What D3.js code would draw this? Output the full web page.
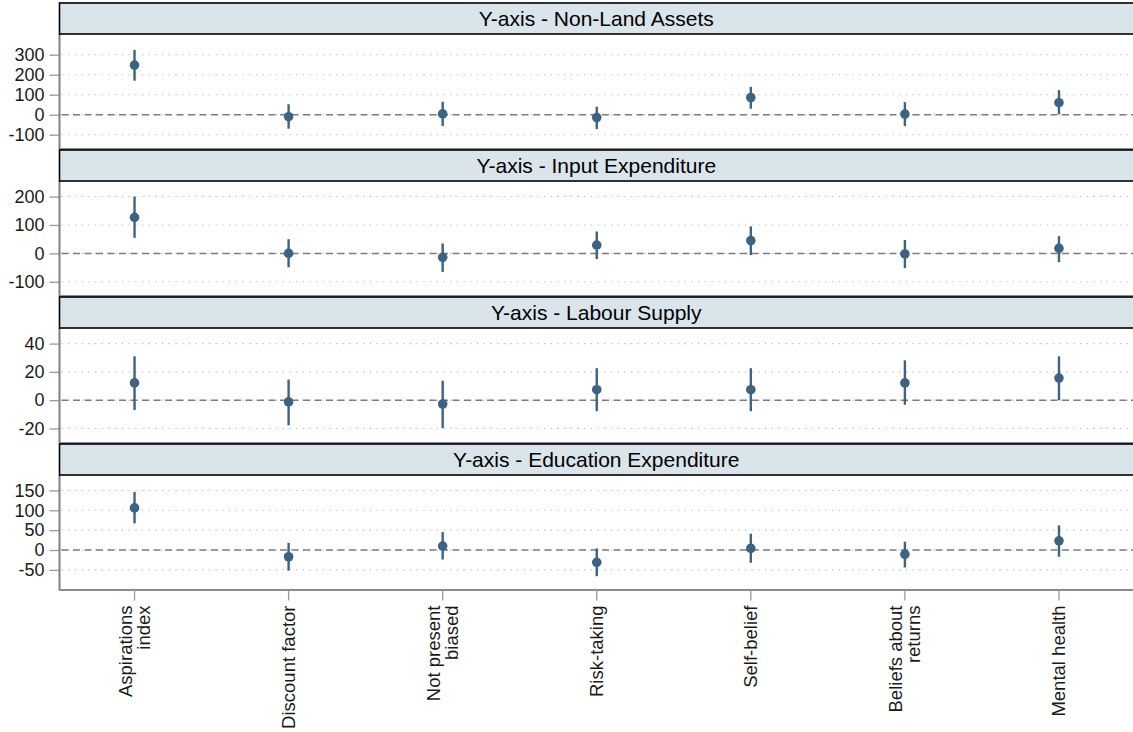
<!DOCTYPE html>
<html><head><meta charset="utf-8">
<script src="https://cdn.jsdelivr.net/npm/d3@7"></script>
<style>
html,body{margin:0;padding:0;background:#fff;}
svg{display:block;font-family:"Liberation Sans",Arial,sans-serif;}
</style></head>
<body>
<svg id="chart" width="1133" height="732"></svg>
<script>
const categories = ["Aspirations\nindex","Discount factor","Not present\nbiased","Risk-taking","Self-belief","Beliefs about\nreturns","Mental health"];
const panelTitles = ["Y-axis - Non-Land Assets","Y-axis - Input Expenditure","Y-axis - Labour Supply","Y-axis - Education Expenditure"];

// estimates, lower and upper bounds per panel (order of categories)
const estNonLand   = [248, -10, 4, -14, 86, 3, 60];
const loNonLand    = [170, -70, -57, -72, 30, -57, 2];
const hiNonLand    = [324, 52, 65, 40, 139, 63, 123];

const estInput     = [127, 0, -14, 29, 45, -2, 18];
const loInput      = [55, -49, -65, -20, -6, -52, -31];
const hiInput      = [200, 50, 35, 77, 95, 47, 61];

const estLabour    = [12.2, -1.2, -2.7, 7.4, 7.4, 12.2, 15.6];
const loLabour     = [-7, -17.7, -19.7, -7.8, -7.8, -3.2, 0];
const hiLabour     = [31, 14.6, 13.8, 22.6, 22.6, 28.2, 31];

const estEdu       = [106, -17, 10, -31, 4, -11, 23];
const loEdu        = [67, -52, -24, -66, -32, -44, -17];
const hiEdu        = [146, 18, 45, 4, 41, 21, 62];

const yTicksNonLand = [-100, 0, 100, 200, 300];
const yTicksInput   = [-100, 0, 100, 200];
const yTicksLabour  = [-20, 0, 20, 40];
const yTicksEdu     = [-50, 0, 50, 100, 150];

const yDomains = [[-169, 398.5], [-148.2, 251.3], [-29.9, 50.3], [-99.5, 186.4]];

const panels = [
  {title: panelTitles[0], est: estNonLand, lo: loNonLand, hi: hiNonLand, ticks: yTicksNonLand, domain: yDomains[0]},
  {title: panelTitles[1], est: estInput, lo: loInput, hi: hiInput, ticks: yTicksInput, domain: yDomains[1]},
  {title: panelTitles[2], est: estLabour, lo: loLabour, hi: hiLabour, ticks: yTicksLabour, domain: yDomains[2]},
  {title: panelTitles[3], est: estEdu, lo: loEdu, hi: hiEdu, ticks: yTicksEdu, domain: yDomains[3]}
];

const svg = d3.select("#chart");
const left = 59.5, right = 1136;
const cell = 147, top0 = 3, stripH = 31, panelOff = 32, panelH = 113.5;
const pointColor = "#3c6382";

const x = d3.scalePoint().domain(categories).range([left, right - 2]).padding(0.487);

panels.forEach((p, i) => {
  const sTop = top0 + i * cell;
  const pTop = sTop + panelOff, pBot = pTop + panelH;
  const y = d3.scaleLinear().domain(p.domain).range([pBot, pTop]);
  const g = svg.append("g");

  // grid
  g.selectAll("line.grid").data(p.ticks).join("line")
    .attr("x1", left + 2).attr("x2", right)
    .attr("y1", d => y(d)).attr("y2", d => y(d))
    .attr("stroke", "#bdbdbd").attr("stroke-width", 1.1)
    .attr("stroke-dasharray", "1.3,5.4");
  // zero line
  g.append("line").attr("x1", left + 2).attr("x2", right)
    .attr("y1", y(0)).attr("y2", y(0))
    .attr("stroke", "#7c7c7c").attr("stroke-width", 1.5)
    .attr("stroke-dasharray", "7,4.5");

  // y axis
  const ax = d3.axisLeft(y).tickValues(p.ticks).tickFormat(d => String(d))
    .tickSize(10).tickPadding(5).tickSizeOuter(0);
  const axg = g.append("g").attr("transform", `translate(${left},0)`).call(ax);
  axg.select(".domain").remove();
  axg.selectAll(".tick line").attr("stroke", "#9a9a9a").attr("stroke-width", 1.3);
  axg.selectAll(".tick text").attr("font-size", 18).attr("fill", "#1a1a1a")
    .attr("font-family", "Liberation Sans, Arial, sans-serif");

  // panel axis lines
  g.append("line").attr("x1", left).attr("x2", left).attr("y1", pTop - 1).attr("y2", pBot + 1)
    .attr("stroke", "#7f7f7f").attr("stroke-width", 2);
  g.append("line").attr("x1", left).attr("x2", right).attr("y1", pBot + 0.5).attr("y2", pBot + 0.5)
    .attr("stroke", "#8c8c8c").attr("stroke-width", 2);

  // error bars
  g.selectAll("line.err").data(categories).join("line")
    .attr("x1", d => x(d)).attr("x2", d => x(d))
    .attr("y1", (d, j) => y(p.lo[j])).attr("y2", (d, j) => y(p.hi[j]))
    .attr("stroke", pointColor).attr("stroke-width", 2.4);
  g.selectAll("circle").data(categories).join("circle")
    .attr("cx", d => x(d)).attr("cy", (d, j) => y(p.est[j]))
    .attr("r", 4.8).attr("fill", pointColor);

  // strip
  g.append("rect").attr("x", left).attr("y", sTop).attr("width", right - left + 5).attr("height", stripH)
    .attr("fill", "#d9e5eb").attr("stroke", "#000").attr("stroke-width", 1.6);
  g.append("text").attr("x", (left + 1133) / 2).attr("y", sTop + stripH / 2).attr("dy", "0.36em")
    .attr("text-anchor", "middle").attr("font-size", 21).attr("fill", "#000").text(p.title);
});

// x axis at bottom
const bottomY = top0 + 3 * cell + panelOff + panelH + 1;
const xg = svg.append("g");
xg.selectAll("line.xt").data(categories).join("line")
  .attr("x1", d => x(d)).attr("x2", d => x(d)).attr("y1", bottomY).attr("y2", bottomY + 10)
  .attr("stroke", "#9a9a9a").attr("stroke-width", 1.3);
const lh = 18;
xg.selectAll("text.xl").data(categories).join("text")
  .attr("transform", d => `translate(${x(d)},${bottomY + 15}) rotate(-90)`)
  .attr("text-anchor", "end").attr("font-size", 18.5).attr("fill", "#1a1a1a")
  .each(function(d) {
    const lines = d.split("\n");
    const t = d3.select(this);
    lines.forEach((ln, k) => {
      t.append("tspan").attr("x", 0)
        .attr("y", (k - (lines.length - 1) / 2) * lh)
        .attr("dy", "0.35em").text(ln);
    });
  });
</script>
</body></html>
